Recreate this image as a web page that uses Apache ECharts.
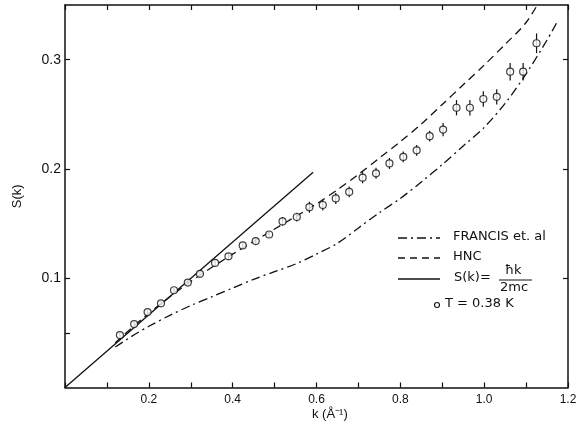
<!DOCTYPE html>
<html>
<head>
<meta charset="utf-8">
<script src="https://cdn.jsdelivr.net/npm/echarts@6/dist/echarts.min.js"></script>
<style>html,body{margin:0;padding:0;background:#fff}#c{width:581px;height:433px}</style>
</head>
<body>
<div id="c"></div>
<script>
// ---- data ----
const dataK = [0.131,0.165,0.197,0.229,0.260,0.293,0.322,0.358,0.390,0.424,0.455,0.487,0.519,0.553,0.583,0.615,0.646,0.678,0.710,0.742,0.774,0.807,0.839,0.870,0.902,0.934,0.966,0.998,1.030,1.062,1.093,1.125];
const dataS = [0.048,0.058,0.069,0.077,0.089,0.096,0.104,0.114,0.120,0.130,0.134,0.140,0.152,0.156,0.165,0.167,0.173,0.179,0.192,0.196,0.205,0.211,0.217,0.230,0.236,0.256,0.256,0.264,0.266,0.289,0.289,0.315];
const dataErr = [0.002,0.002,0.002,0.002,0.002,0.002,0.003,0.003,0.003,0.003,0.003,0.003,0.004,0.004,0.005,0.005,0.005,0.005,0.005,0.005,0.005,0.005,0.005,0.005,0.006,0.007,0.007,0.007,0.007,0.008,0.008,0.009];
const hncK = [0.12,0.2,0.3,0.4,0.5,0.6,0.65,0.7,0.75,0.8,0.85,0.9,0.95,1.0,1.05,1.1,1.15];
const hncS = [0.041,0.068,0.097,0.122,0.145,0.168,0.181,0.195,0.210,0.225,0.241,0.259,0.277,0.295,0.314,0.334,0.365];
const francisK = [0.12,0.16,0.2,0.25,0.3,0.35,0.4,0.45,0.5,0.55,0.6,0.65,0.7,0.75,0.8,0.85,0.9,0.95,1.0,1.05,1.1,1.15,1.175];
const francisS = [0.037,0.047,0.056,0.066,0.075,0.083,0.091,0.099,0.106,0.113,0.122,0.132,0.146,0.160,0.173,0.188,0.204,0.221,0.238,0.260,0.287,0.318,0.335];
const limitK = [0, 0.592];
const limitS = [0, 0.197];
const xLabelValues = [0.2,0.4,0.6,0.8,1.0,1.2];
const yLabelValues = [0.1,0.2,0.3];
const legendNames = ['FRANCIS et. al','HNC','S(k)=','T = 0.38 K'];

const zip = (a,b) => a.map((v,i)=>[v,b[i]]);
const FONT = 'Liberation Sans';
const LFONT = 'DejaVu Sans';
const chart = echarts.init(document.getElementById('c'), null, {renderer:'canvas'});

const axisLine = {show:true, onZero:false, lineStyle:{color:'#111', width:1.5}};
const tickStyle = {color:'#111', width:1.2};

const option = {
  animation:false,
  backgroundColor:'#fff',
  grid:{left:65, right:13, top:5, bottom:45.5, containLabel:false},
  xAxis:[{
    type:'value', min:0, max:1.2, interval:0.1, position:'bottom',
    axisLine:axisLine,
    axisTick:{show:true, inside:true, length:5, lineStyle:tickStyle},
    axisLabel:{customValues:xLabelValues, formatter:v=>v.toFixed(1), color:'#111', fontFamily:FONT, fontSize:12, margin:6},
    splitLine:{show:false}
  },{
    type:'value', min:0, max:1.2, interval:0.1, position:'top',
    axisLine:axisLine,
    axisTick:{show:true, inside:true, length:5, lineStyle:tickStyle},
    axisLabel:{show:false}, splitLine:{show:false}
  }],
  yAxis:[{
    type:'value', min:0, max:0.35, interval:0.05, position:'left',
    axisLine:axisLine,
    axisTick:{show:true, inside:true, length:5, lineStyle:tickStyle, customValues:[0.05,0.1,0.2,0.3]},
    axisLabel:{customValues:yLabelValues, formatter:v=>v.toFixed(1), color:'#111', fontFamily:FONT, fontSize:14, margin:4},
    splitLine:{show:false},
    name:'S(k)', nameLocation:'middle', nameGap:41, nameRotate:90,
    nameTextStyle:{color:'#111', fontFamily:FONT, fontSize:13}
  },{
    type:'value', min:0, max:0.35, interval:0.05, position:'right',
    axisLine:axisLine,
    axisTick:{show:true, inside:true, length:5, lineStyle:tickStyle, customValues:[0.1,0.2,0.3]},
    axisLabel:{show:false}, splitLine:{show:false}
  }],
  series:[
    {
      name:legendNames[0], type:'line', data:zip(francisK,francisS), smooth:0.3, symbol:'none', clip:true,
      lineStyle:{color:'#111', width:1.3, type:[9,4,2,4]}, z:2
    },
    {
      name:legendNames[1], type:'line', data:zip(hncK,hncS), smooth:0.3, symbol:'none', clip:true,
      lineStyle:{color:'#111', width:1.3, type:[8,5]}, z:2
    },
    {
      name:legendNames[2], type:'line', data:zip(limitK,limitS), symbol:'none', clip:true,
      lineStyle:{color:'#111', width:1.3}, z:2
    },
    {
      name:'err', type:'custom', z:3,
      data:dataK.map((k,i)=>[k, dataS[i]-dataErr[i], dataS[i]+dataErr[i]]),
      renderItem:(params, api)=>{
        const p1 = api.coord([api.value(0), api.value(1)]);
        const p2 = api.coord([api.value(0), api.value(2)]);
        return {type:'line', shape:{x1:p1[0], y1:p1[1], x2:p2[0], y2:p2[1]}, style:{stroke:'#111', lineWidth:1.2}};
      }
    },
    {
      name:legendNames[3], type:'scatter', data:zip(dataK,dataS), symbol:'circle', symbolSize:7, z:4,
      itemStyle:{color:'#fff', borderColor:'#111', borderWidth:1.2}
    }
  ],
  graphic:[
    {type:'text', left:312, top:408, style:{text:'k (Å\u207B\u00B9)', fill:'#111', font:'13px '+FONT}},
    {type:'line', shape:{x1:398,y1:238,x2:440,y2:238}, style:{stroke:'#111', lineWidth:1.3, lineDash:[9,4,2,4]}},
    {type:'text', left:453, top:230, style:{text:legendNames[0], fill:'#111', font:'13px '+LFONT}},
    {type:'line', shape:{x1:398,y1:258,x2:440,y2:258}, style:{stroke:'#111', lineWidth:1.3, lineDash:[7,5]}},
    {type:'text', left:453, top:250, style:{text:legendNames[1], fill:'#111', font:'13px '+LFONT}},
    {type:'line', shape:{x1:398,y1:279,x2:440,y2:279}, style:{stroke:'#111', lineWidth:1.3}},
    {type:'text', left:454, top:271, style:{text:legendNames[2], fill:'#111', font:'13px '+LFONT}},
    {type:'text', left:505, top:264, style:{text:'\u0127k', fill:'#111', font:'13px '+LFONT}},
    {type:'line', shape:{x1:499,y1:280,x2:532,y2:280}, style:{stroke:'#111', lineWidth:1}},
    {type:'text', left:500, top:281, style:{text:'2mc', fill:'#111', font:'13px '+LFONT}},
    {type:'circle', shape:{cx:437, cy:305, r:2.5}, style:{fill:'#fff', stroke:'#111', lineWidth:1.1}},
    {type:'text', left:445, top:297, style:{text:legendNames[3], fill:'#111', font:'13px '+LFONT}}
  ]
};
chart.setOption(option);
</script>
</body>
</html>
